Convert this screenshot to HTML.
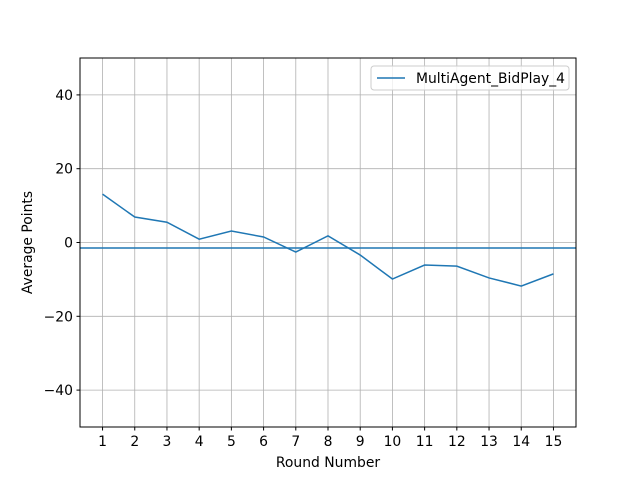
<!DOCTYPE html>
<html><head><meta charset="utf-8"><style>
body{margin:0;background:#fff}
svg{font-family:"DejaVu Sans","Liberation Sans",sans-serif}
</style></head><body>
<svg id="chart" width="640" height="480">
<rect width="640" height="480" fill="#fff"/>
<g id="grid"></g>
<g id="marks"></g>
<rect x="80" y="58" width="496" height="369" fill="none" stroke="#000" stroke-width="1"/>
<g id="ticks"></g>
<text x="328" y="467" text-anchor="middle" font-size="13.9">Round Number</text>
<text transform="translate(32,242.5) rotate(-90)" text-anchor="middle" font-size="13.9">Average Points</text>
<g>
<rect x="371" y="66" width="198" height="24" rx="3" fill="#fff" fill-opacity="0.8" stroke="#ccc"/>
<line x1="377" y1="78" x2="405" y2="78" stroke="#1f77b4" stroke-width="1.5"/>
<text x="416" y="83" font-size="13.9">MultiAgent_BidPlay_4</text>
</g>
</svg>
<script>
const rounds=[1,2,3,4,5,6,7,8,9,10,11,12,13,14,15];
const points=[13.1,6.9,5.5,0.9,3.1,1.5,-2.6,1.8,-3.4,-9.9,-6.1,-6.4,-9.6,-11.8,-8.5];
const meanValue=[-1.5];
const yTicks=[-40,-20,0,20,40];
const ns="http://www.w3.org/2000/svg";
const X=v=>80+(v-0.3)/15.4*496;
const Y=v=>427-(v+50)/100*369;
function mk(t,a,p){const e=document.createElementNS(ns,t);for(const k in a)e.setAttribute(k,a[k]);document.getElementById(p).appendChild(e);return e;}
rounds.forEach(r=>{
 const g=mk('line',{x1:X(r),x2:X(r),y1:58,y2:427,stroke:'#b0b0b0','stroke-width':0.8},'grid');
 
 
 mk('line',{x1:X(r),x2:X(r),y1:427,y2:430.5,stroke:'#000'},'ticks');
 const t=mk('text',{x:X(r),y:446,'text-anchor':'middle','font-size':13.9},'ticks');
 t.textContent=r;
 
 
});
yTicks.forEach(v=>{
 const g=mk('line',{x1:80,x2:576,y1:Y(v),y2:Y(v),stroke:'#b0b0b0','stroke-width':0.8},'grid');
 
 
 mk('line',{x1:76.5,x2:80,y1:Y(v),y2:Y(v),stroke:'#000'},'ticks');
 const t=mk('text',{x:73,y:Y(v)+5,'text-anchor':'end','font-size':13.9},'ticks');
 t.textContent=v<0?'\u2212'+Math.abs(v):v;
 
 
});
const l=mk('polyline',{points:rounds.map((r,i)=>X(r)+','+Y(points[i])).join(' '),fill:'none',stroke:'#1f77b4','stroke-width':1.5},'marks');


const m=mk('line',{x1:80,x2:576,y1:Y(meanValue[0]),y2:Y(meanValue[0]),stroke:'#1f77b4','stroke-width':1.5},'marks');


</script>
</body></html>
